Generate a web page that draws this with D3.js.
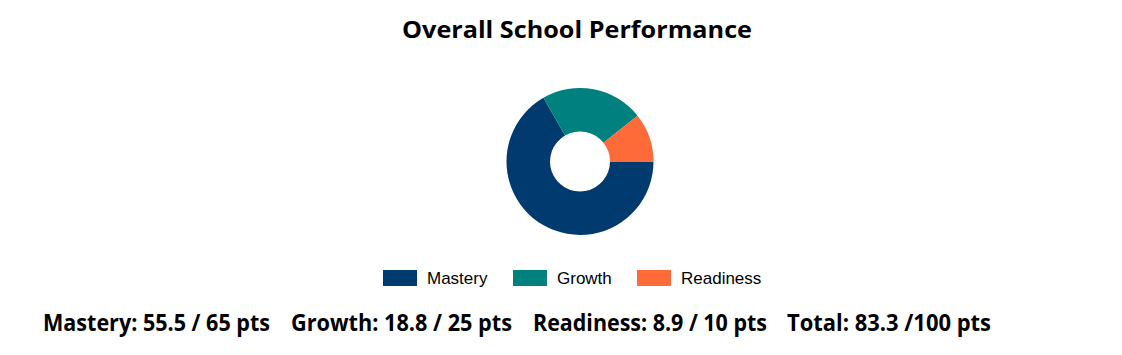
<!DOCTYPE html>
<html>
<head>
<meta charset="utf-8">
<script src="https://cdn.jsdelivr.net/npm/d3@7"></script>
<style>
  html, body { margin: 0; padding: 0; background: #fff; }
  svg text { font-family: "Segoe UI", "Open Sans", "Noto Sans", sans-serif; }
</style>
</head>
<body>
<div id="chart"></div>
<script>
// Chart data
const categories = ['Mastery', 'Growth', 'Readiness'];
const points = [55.5, 18.8, 8.9];
const maxPoints = [65, 25, 10];
const totalPoints = 83.3;
const totalMax = 100;
const colors = ['#003a6e', '#00807e', '#ff6a39'];

const width = 1122;
const height = 355;

const svg = d3.select('#chart')
  .append('svg')
  .attr('width', width)
  .attr('height', height);

// Title
svg.append('text')
  .attr('x', 577)
  .attr('y', 38)
  .attr('text-anchor', 'middle')
  .style('font-size', '23.5px')
  .style('font-weight', 'bold')
  .attr('textLength', 350)
  .attr('lengthAdjust', 'spacingAndGlyphs')
  .text('Overall School Performance');

// Donut
const pie = d3.pie()
  .sort(null)
  .startAngle(Math.PI / 2)
  .endAngle(Math.PI / 2 + 2 * Math.PI);

const arc = d3.arc()
  .innerRadius(30)
  .outerRadius(73.5);

const color = d3.scaleOrdinal().domain(categories).range(colors);

const g = svg.append('g')
  .attr('transform', 'translate(580,161.5)');

g.selectAll('path')
  .data(pie(points))
  .enter()
  .append('path')
  .attr('d', arc)
  .attr('fill', (d, i) => color(categories[i]));

// Legend
const legendX = [383, 513, 637];
const legend = svg.append('g');
categories.forEach((c, i) => {
  const row = legend.append('g').attr('transform', `translate(${legendX[i]},270)`);
  row.append('rect')
    .attr('width', 34)
    .attr('height', 16)
    .attr('fill', color(c));
  row.append('text')
    .attr('x', 44)
    .attr('y', 14)
    .style('font-family', '"Liberation Sans", Arial, sans-serif')
    .style('font-size', '17px')
    .attr('fill', '#000')
    .text(c);
});

// Summary line
const summary = categories.map((c, i) => `${c}: ${points[i]} / ${maxPoints[i]} pts`);
summary.push(`Total: ${totalPoints} /${totalMax} pts`);
const summaryX = [43, 291, 533, 787];
const summaryW = [227, 221, 234, 204];

svg.selectAll('text.summary')
  .data(summary)
  .enter()
  .append('text')
  .attr('class', 'summary')
  .attr('x', (d, i) => summaryX[i])
  .attr('y', 331)
  .style('font-size', '23px')
  .style('font-weight', 'bold')
  .attr('textLength', (d, i) => summaryW[i])
  .attr('lengthAdjust', 'spacingAndGlyphs')
  .text(d => d);
</script>
</body>
</html>
